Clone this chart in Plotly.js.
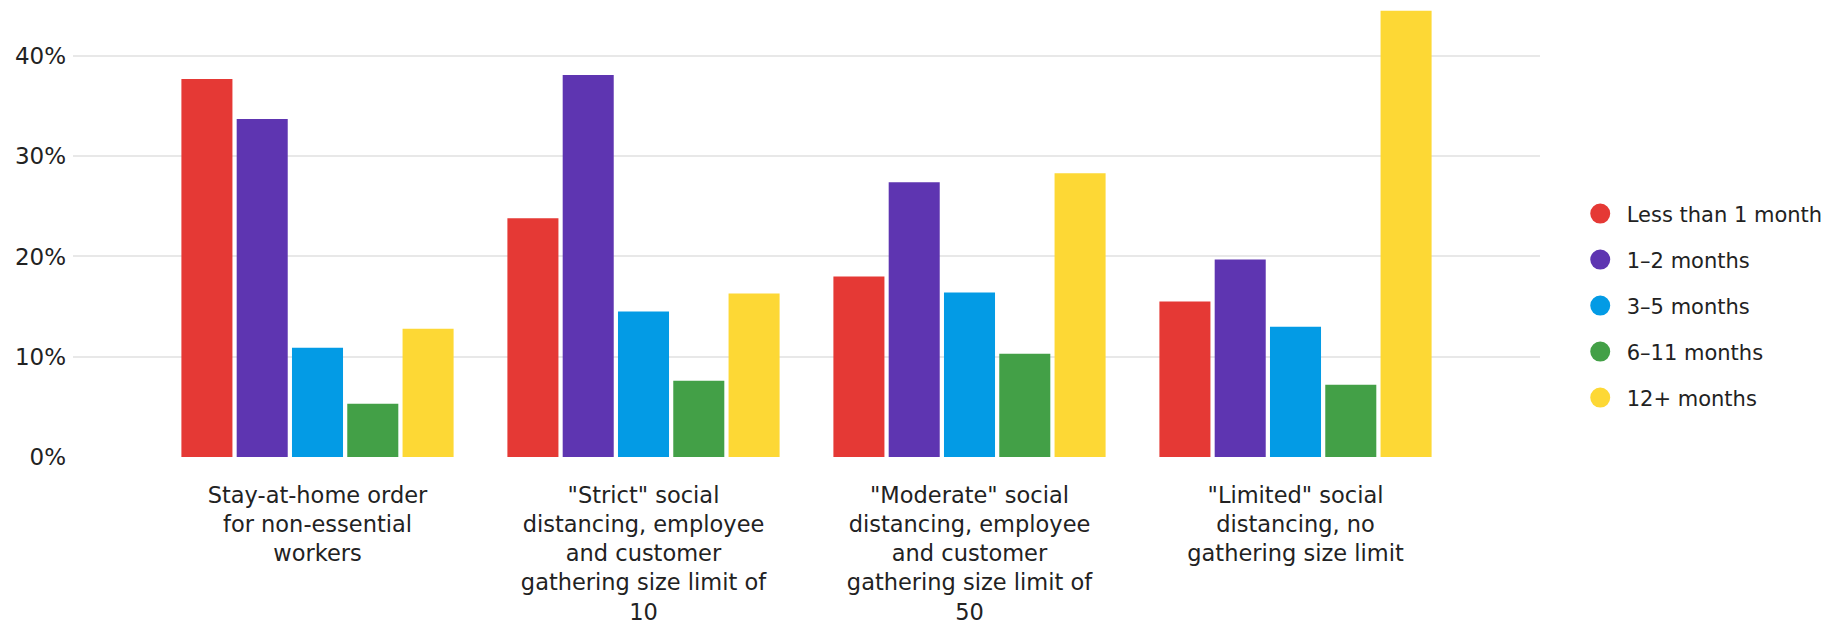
<!DOCTYPE html>
<html>
<head>
<meta charset="utf-8">
<script src="https://cdn.plot.ly/plotly-3.0.1.min.js"></script>
<style>
  html, body { margin: 0; padding: 0; background: #ffffff; }
  #chart { width: 1846px; height: 625px; }
</style>
</head>
<body>
<div id="chart"></div>
<script>
const categories = [
  'Stay-at-home order<br>for non-essential<br>workers',
  '"Strict" social<br>distancing, employee<br>and customer<br>gathering size limit of<br>10',
  '"Moderate" social<br>distancing, employee<br>and customer<br>gathering size limit of<br>50',
  '"Limited" social<br>distancing, no<br>gathering size limit'
];
const seriesNames = ['Less than 1 month', '1\u20132 months', '3\u20135 months', '6\u201311 months', '12+ months'];
const lessThan1 = [37.7, 23.8, 18.0, 15.5];
const months1to2 = [33.7, 38.1, 27.4, 19.7];
const months3to5 = [10.9, 14.5, 16.4, 13.0];
const months6to11 = [5.3, 7.6, 10.3, 7.2];
const months12plus = [12.8, 16.3, 28.3, 44.5];
const tickValues = [0, 10, 20, 30, 40];
const tickLabels = ['0%', '10%', '20%', '30%', '40%'];

const seriesValues = [lessThan1, months1to2, months3to5, months6to11, months12plus];
const colors = ['#e53935', '#5e35b1', '#039be5', '#43a047', '#fdd835'];
const idx = categories.map((c, i) => i);

const traces = [];
seriesValues.forEach((vals, k) => {
  traces.push({
    type: 'bar',
    x: idx,
    y: vals,
    name: seriesNames[k],
    marker: { color: colors[k] },
    showlegend: false,
    hoverinfo: 'skip'
  });
});
seriesValues.forEach((vals, k) => {
  traces.push({
    type: 'scatter',
    mode: 'markers',
    x: [null],
    y: [null],
    name: seriesNames[k],
    legendgroup: 'g' + k,
    marker: { color: colors[k], size: 16, symbol: 'circle', line: { color: colors[k], width: 4 } },
    showlegend: true,
    hoverinfo: 'skip'
  });
});

const FONT = '"DejaVu Sans", "Liberation Sans", Arial, sans-serif';

const layout = {
  width: 1846,
  height: 625,
  paper_bgcolor: '#ffffff',
  plot_bgcolor: '#ffffff',
  font: { family: FONT, color: '#222222', size: 23 },
  margin: { l: 73, r: 306, t: 0, b: 168, pad: 0 },
  barmode: 'group',
  bargap: 0.152,
  bargroupgap: 0.077,
  showlegend: true,
  legend: {
    x: 1.023,
    xanchor: 'left',
    y: 0.3305,
    yanchor: 'middle',
    font: { family: FONT, size: 21, color: '#222222' },
    traceorder: 'grouped',
    tracegroupgap: 15.7,
    itemwidth: 43,
    bgcolor: 'rgba(0,0,0,0)',
    borderwidth: 0
  },
  xaxis: {
    type: 'linear',
    range: [-0.75, 3.75],
    tickmode: 'array',
    tickvals: idx,
    ticktext: categories,
    showgrid: false,
    zeroline: false,
    showline: false,
    ticks: '',
    ticklabelstandoff: 22,
    tickfont: { family: FONT, size: 22.5, color: '#222222' },
    fixedrange: true
  },
  yaxis: {
    range: [0, 45.58],
    tickmode: 'array',
    tickvals: tickValues,
    ticktext: tickLabels,
    showgrid: true,
    gridcolor: '#e8e8e8',
    gridwidth: 2,
    zeroline: false,
    showline: false,
    ticks: '',
    ticklabelstandoff: 6,
    tickfont: { family: FONT, size: 23, color: '#222222' },
    fixedrange: true
  }
};

Plotly.newPlot('chart', traces, layout, { staticPlot: true, displayModeBar: false });
</script>
</body>
</html>
